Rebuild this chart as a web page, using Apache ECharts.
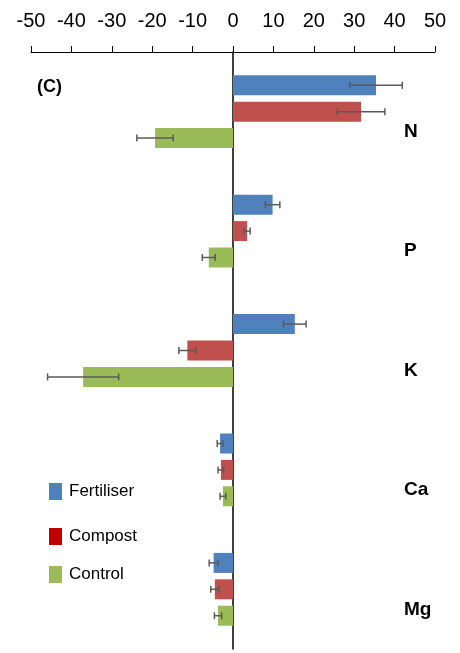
<!DOCTYPE html>
<html>
<head>
<meta charset="utf-8">
<script src="https://cdn.jsdelivr.net/npm/echarts@6/dist/echarts.min.js"></script>
<style>
  html, body { margin: 0; padding: 0; background: #fff; }
  #chart { width: 460px; height: 653px; }
</style>
</head>
<body>
<div id="chart"></div>
<script>
// Nutrient balance by treatment
const categories = ['N', 'P', 'K', 'Ca', 'Mg'];
const seriesNames = ['Fertiliser', 'Compost', 'Control'];
const fertiliser = [35.4, 9.8, 15.3, -3.2, -4.8];
const compost = [31.7, 3.5, -11.3, -3.0, -4.5];
const control = [-19.3, -6.0, -37.1, -2.5, -3.7];
const fertiliserErr = [6.5, 1.8, 2.8, 0.7, 1.1];
const compostErr = [5.9, 0.75, 2.1, 0.7, 1.0];
const controlErr = [4.5, 1.6, 8.8, 0.7, 0.9];
const xTicks = [-50, -40, -30, -20, -10, 0, 10, 20, 30, 40, 50];

const barColors = ['#4F81BD', '#C0504D', '#9BBB59'];
const legendColors = ['#4F81BD', '#C00000', '#9BBB59'];
const values = [fertiliser, compost, control];
const errors = [fertiliserErr, compostErr, controlErr];

const BAR_W = 20;
const BAR_STEP = 26.4;
const FONT = '"Liberation Sans", Arial, sans-serif';

const chart = echarts.init(document.getElementById('chart'), null, { renderer: 'canvas' });

const barSeries = seriesNames.map((name, s) => ({
  name: name,
  type: 'bar',
  yAxisIndex: 0,
  barWidth: BAR_W,
  barGap: ((BAR_STEP - BAR_W) / BAR_W * 100) + '%',
  itemStyle: { color: barColors[s] },
  data: values[s],
  z: 2
}));

const errorSeries = seriesNames.map((name, s) => ({
  name: name + ' error',
  type: 'custom',
  yAxisIndex: 0,
  z: 5,
  data: values[s].map((v, i) => [i, v, errors[s][i]]),
  renderItem: function (params, api) {
    const cat = api.value(0);
    const v = api.value(1);
    const e = api.value(2);
    const off = (s - 1) * BAR_STEP;
    const p1 = api.coord([v - e, cat]);
    const p2 = api.coord([v + e, cat]);
    const y = p1[1] + off;
    const cap = 3.5;
    const style = { stroke: '#5a5a5a', lineWidth: 1.5 };
    return {
      type: 'group',
      children: [
        { type: 'line', shape: { x1: p1[0], y1: y, x2: p2[0], y2: y }, style: style },
        { type: 'line', shape: { x1: p1[0], y1: y - cap, x2: p1[0], y2: y + cap }, style: style },
        { type: 'line', shape: { x1: p2[0], y1: y - cap, x2: p2[0], y2: y + cap }, style: style }
      ]
    };
  }
}));

// One legend block per treatment so the rows can sit at their own heights
const legendTops = [478, 523, 561];
const legends = seriesNames.map((name, s) => ({
  orient: 'vertical',
  left: 44,
  top: legendTops[s],
  itemWidth: 13,
  itemHeight: 17,
  selectedMode: false,
  textStyle: { fontFamily: FONT, fontSize: 17, color: '#000', padding: [0, 0, 0, 2] },
  data: [{ name: name, icon: 'rect', itemStyle: { color: legendColors[s] } }]
}));

chart.setOption({
  animation: false,
  backgroundColor: '#fff',
  title: {
    text: '(C)',
    left: 32,
    top: 73,
    textStyle: { fontFamily: FONT, fontSize: 18, fontWeight: 'bold', color: '#000' }
  },
  legend: legends,
  grid: { left: 31, right: 25, top: 52, bottom: 4, containLabel: false },
  xAxis: {
    type: 'value',
    position: 'top',
    min: xTicks[0],
    max: xTicks[xTicks.length - 1],
    interval: 10,
    axisLine: { show: true, lineStyle: { color: '#000', width: 1 } },
    axisTick: { show: true, length: 6, lineStyle: { color: '#000' } },
    splitLine: { show: false },
    axisLabel: {
      margin: 21,
      fontFamily: FONT,
      fontSize: 20,
      color: '#000'
    }
  },
  yAxis: [
    {
      type: 'category',
      inverse: true,
      data: categories,
      axisLine: { show: true, onZero: true, lineStyle: { color: '#000', width: 1.5 } },
      axisTick: { show: false },
      axisLabel: { show: false },
      splitLine: { show: false }
    },
    {
      type: 'category',
      inverse: true,
      position: 'right',
      data: categories,
      axisLine: { show: false, onZero: false },
      axisTick: { show: false },
      splitLine: { show: false },
      axisLabel: {
        margin: -31,
        align: 'left',
        verticalAlign: 'top',
        lineHeight: 40,
        fontFamily: FONT,
        fontSize: 19,
        fontWeight: 'bold',
        color: '#000'
      }
    }
  ],
  series: barSeries.concat(errorSeries)
});
</script>
</body>
</html>
